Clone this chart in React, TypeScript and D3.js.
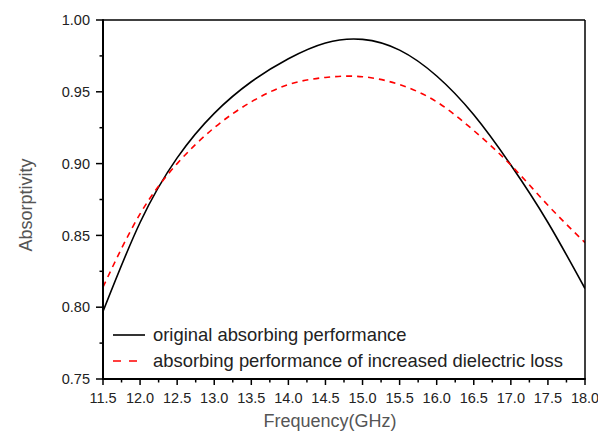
import React from "react";
import * as d3 from "d3";

const freq = [11.5, 12.0, 12.5, 13.0, 13.5, 14.0, 14.5, 15.0, 15.5, 16.0, 16.5, 17.0, 17.5, 18.0];
const absOriginal = [0.797, 0.859, 0.904, 0.935, 0.957, 0.973, 0.984, 0.9865, 0.979, 0.961, 0.934, 0.899, 0.859, 0.813];
const absLossy = [0.814, 0.865, 0.900, 0.925, 0.943, 0.955, 0.960, 0.9605, 0.955, 0.943, 0.923, 0.899, 0.871, 0.845];

const xTicks = [11.5, 12.0, 12.5, 13.0, 13.5, 14.0, 14.5, 15.0, 15.5, 16.0, 16.5, 17.0, 17.5, 18.0];
const yTicks = [0.75, 0.8, 0.85, 0.9, 0.95, 1.0];

const seriesNames = ["original absorbing performance", "absorbing performance of increased dielectric loss"];
const xTitle = "Frequency(GHz)";
const yTitle = "Absorptivity";

const W = 598, H = 433;
const L = 103, R = 585, T = 20, B = 379;
const FONT = "'Liberation Sans', Arial, sans-serif";

export default function App() {
  const x = d3.scaleLinear().domain([11.5, 18.0]).range([L, R]);
  const y = d3.scaleLinear().domain([0.75, 1.0]).range([B, T]);
  const line = d3.line<[number, number]>().x(d => x(d[0])).y(d => y(d[1])).curve(d3.curveNatural);
  const blackPts = freq.map((f, i) => [f, absOriginal[i]] as [number, number]);
  const redPts = freq.map((f, i) => [f, absLossy[i]] as [number, number]);
  const xMinor = xTicks.slice(0, -1).map(t => t + 0.25);
  const yMinor = yTicks.slice(0, -1).map(t => t + 0.025);

  return (
    <svg width={W} height={H} style={{ position: "absolute", left: 0, top: 0, background: "#fff" }} fontFamily={FONT}>
      <defs>
        <clipPath id="plotclip"><rect x={L} y={T} width={R - L} height={B - T} /></clipPath>
      </defs>
      <g clipPath="url(#plotclip)">
        <path d={line(blackPts) || ""} fill="none" stroke="#000" strokeWidth={1.6} />
        <path d={line(redPts) || ""} fill="none" stroke="#ff0000" strokeWidth={1.6} strokeDasharray="6,5" />
      </g>
      {/* frame */}
      <line x1={L} y1={T} x2={R} y2={T} stroke="#000" strokeWidth={1.5} />
      <line x1={R} y1={T} x2={R} y2={B} stroke="#000" strokeWidth={1.5} />
      <line x1={L} y1={T - 0.75} x2={L} y2={B + 0.75} stroke="#000" strokeWidth={2} />
      <line x1={L - 1} y1={B} x2={R + 0.75} y2={B} stroke="#000" strokeWidth={2} />
      {/* x ticks */}
      {xTicks.map(t => (
        <g key={"xt" + t}>
          <line x1={x(t)} x2={x(t)} y1={B} y2={B + 6} stroke="#000" strokeWidth={1.5} />
          <text x={x(t)} y={403} textAnchor="middle" fontSize={14.5} fill="#222">{t.toFixed(1)}</text>
        </g>
      ))}
      {xMinor.map(t => (
        <line key={"xm" + t} x1={x(t)} x2={x(t)} y1={B} y2={B + 3.5} stroke="#000" strokeWidth={1.5} />
      ))}
      {/* y ticks */}
      {yTicks.map(t => (
        <g key={"yt" + t}>
          <line x1={L - 7} x2={L} y1={y(t)} y2={y(t)} stroke="#000" strokeWidth={1.5} />
          <text x={90} y={y(t)} dy="0.36em" textAnchor="end" fontSize={14.5} fill="#222">{t.toFixed(2)}</text>
        </g>
      ))}
      {yMinor.map(t => (
        <line key={"ym" + t} x1={L - 3.5} x2={L} y1={y(t)} y2={y(t)} stroke="#000" strokeWidth={1.5} />
      ))}
      {/* axis titles */}
      <text x={330} y={427} textAnchor="middle" fontSize={18} fill="#555">{xTitle}</text>
      <text transform={`translate(32,205) rotate(-90)`} textAnchor="middle" fontSize={18} fill="#555">{yTitle}</text>
      {/* legend */}
      <line x1={113} x2={145} y1={335} y2={335} stroke="#000" strokeWidth={1.6} />
      <text x={153} y={341} fontSize={18.4} fill="#222">{seriesNames[0]}</text>
      <line x1={113} x2={145} y1={361} y2={361} stroke="#ff0000" strokeWidth={1.6} strokeDasharray="8,8" />
      <text x={153} y={367} fontSize={18.4} fill="#222">{seriesNames[1]}</text>
    </svg>
  );
}
